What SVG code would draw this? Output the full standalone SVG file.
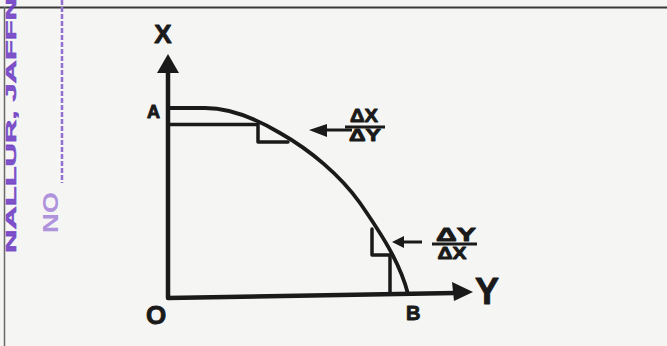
<svg xmlns="http://www.w3.org/2000/svg" width="667" height="346" viewBox="0 0 667 346">
<style>
.ink{fill:none;stroke:#1a1a1a;stroke-linecap:round;stroke-linejoin:round}
.lbl{font-family:"Liberation Sans",Arial,sans-serif;font-weight:bold;fill:#1a1a1a;stroke:#1a1a1a;stroke-width:0.9;stroke-linejoin:round}
.stamp{font-family:"Liberation Sans",Arial,sans-serif;font-weight:bold}
</style>
<rect width="667" height="346" fill="#f5f5f3"/>
<g id="page-border">
<line x1="0" y1="7.5" x2="667" y2="7.5" stroke="#3a3a3a" stroke-width="2.2"/>
<line x1="4.5" y1="7" x2="4.5" y2="346" stroke="#6a6a6a" stroke-width="1.5"/>
</g>
<g id="stamp">
<text class="stamp" transform="translate(16,253) rotate(-90)" font-size="15" fill="#6e3cc4" fill-opacity="0.9" stroke="#6e3cc4" stroke-width="0.6" stroke-opacity="0.8" textLength="256" lengthAdjust="spacingAndGlyphs">NALLUR, JAFFN</text>
<line x1="62" y1="0" x2="62" y2="183" stroke="#9270d2" stroke-width="2.5" stroke-dasharray="5 2"/>
<text class="stamp" transform="translate(58,233) rotate(-90)" font-size="22" fill="#a585da" fill-opacity="0.9" textLength="41" lengthAdjust="spacingAndGlyphs">NO</text>
</g>
<g id="axes">
<path class="ink" d="M168,70 L168,298 L455,293" stroke-width="4.5"/>
<polygon points="168,54 157,73 179,73" fill="#1a1a1a"/>
<polygon points="473,292 452,282 454,301" fill="#1a1a1a"/>
<text class="lbl" x="163" y="43" font-size="26" text-anchor="middle">X</text>
<text class="lbl" x="487" y="304" font-size="36" text-anchor="middle">Y</text>
<text class="lbl" x="156" y="324" font-size="26" text-anchor="middle">O</text>
<text class="lbl" x="147" y="118" font-size="18">A</text>
<text class="lbl" x="406" y="320" font-size="20">B</text>
</g>
<g id="curve">
<path class="ink" d="M168,108 L205,108 C230,108 255,118 280,133 C310,150 340,175 360,203 C380,232 400,262 408,294" stroke-width="3.8"/>
</g>
<g id="steps">
<path class="ink" d="M168,124.5 L258,124.5 L258,142 L288,142" stroke-width="3.5"/>
<path class="ink" d="M372,229 L372,255 L390,255 L390,294" stroke-width="3.5"/>
</g>
<g id="label-top">
<line x1="316" y1="130" x2="352" y2="130" stroke="#1a1a1a" stroke-width="3"/>
<polygon points="309,130 327,124 327,137" fill="#1a1a1a"/>
<line x1="345" y1="127" x2="385" y2="127" stroke="#1a1a1a" stroke-width="3"/>
<text class="lbl" x="364" y="122" font-size="18" text-anchor="middle" textLength="28" lengthAdjust="spacingAndGlyphs">ΔX</text>
<text class="lbl" x="365" y="141" font-size="17" text-anchor="middle" textLength="32" lengthAdjust="spacingAndGlyphs">ΔY</text>
</g>
<g id="label-bottom">
<line x1="398" y1="242" x2="422" y2="242" stroke="#1a1a1a" stroke-width="3"/>
<polygon points="392,242 404,236 404,248" fill="#1a1a1a"/>
<line x1="432" y1="244" x2="477" y2="244" stroke="#1a1a1a" stroke-width="3"/>
<text class="lbl" x="456" y="241" font-size="19" text-anchor="middle" textLength="40" lengthAdjust="spacingAndGlyphs">ΔY</text>
<text class="lbl" x="452" y="259" font-size="17" text-anchor="middle" textLength="29" lengthAdjust="spacingAndGlyphs">ΔX</text>
</g>
</svg>
